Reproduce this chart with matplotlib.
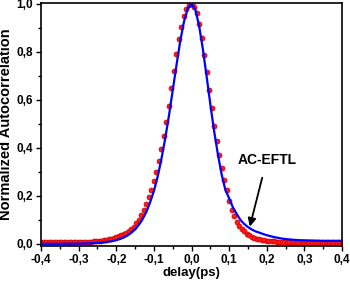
import numpy as np
import matplotlib
matplotlib.use('Agg')
import matplotlib.pyplot as plt
from matplotlib.ticker import MultipleLocator, FuncFormatter

plt.rcParams['font.family'] = ['Liberation Sans', 'DejaVu Sans']
plt.rcParams['font.weight'] = 'bold'

# measured autocorrelation (red dots), step 0.8/120 ps
delay_meas = np.linspace(-0.4, 0.4, 121)
ac_meas = [0.006, 0.006, 0.006, 0.006, 0.006, 0.006, 0.006, 0.006, 0.0065, 0.0066,
           0.0067, 0.0068, 0.0069, 0.0071, 0.0073, 0.0076, 0.0079, 0.0082, 0.0086, 0.0091,
           0.0097, 0.0104, 0.0113, 0.0123, 0.0135, 0.015, 0.0166, 0.0186, 0.021, 0.0238,
           0.027, 0.031, 0.036, 0.041, 0.047, 0.053, 0.061, 0.072, 0.085, 0.100,
           0.121, 0.141, 0.165, 0.194, 0.223, 0.26, 0.30, 0.346, 0.394, 0.45,
           0.51, 0.574, 0.65, 0.72, 0.79, 0.852, 0.905, 0.948, 0.978, 0.995,
           0.998, 0.988, 0.962, 0.916, 0.857, 0.788, 0.716, 0.64, 0.565, 0.493,
           0.43, 0.37, 0.315, 0.267, 0.225, 0.178, 0.14, 0.115, 0.092, 0.075,
           0.063, 0.052, 0.043, 0.036, 0.030, 0.026, 0.022, 0.019, 0.017, 0.015,
           0.0135, 0.012, 0.011, 0.010, 0.0095, 0.009, 0.0087, 0.0084, 0.0082, 0.008,
           0.008, 0.008, 0.008, 0.008, 0.008, 0.008, 0.008, 0.008, 0.008, 0.008,
           0.008, 0.008, 0.008, 0.008, 0.008, 0.008, 0.008, 0.008, 0.008, 0.008,
           0.008]

# AC-EFTL calculation (blue line), step 0.01 ps
delay_calc = np.linspace(-0.4, 0.4, 81)
ac_calc = [0.0, 0.0, 0.0, 0.0, 0.0, 0.0, 0.0005, 0.0006, 0.0006, 0.0008,
           0.001, 0.0013, 0.0017, 0.0022, 0.0029, 0.0039, 0.0051, 0.0067, 0.0089, 0.0117,
           0.0154, 0.0202, 0.0266, 0.035, 0.046, 0.0604, 0.079, 0.103, 0.133, 0.173,
           0.22, 0.28, 0.354, 0.438, 0.534, 0.639, 0.744, 0.845, 0.926, 0.981,
           1.0,
           0.977, 0.911, 0.814, 0.70, 0.582, 0.471, 0.374, 0.29, 0.225, 0.19,
           0.152, 0.125, 0.10, 0.083, 0.07, 0.06, 0.052, 0.047, 0.041, 0.036,
           0.032, 0.028, 0.025, 0.022, 0.020, 0.0185, 0.017, 0.016, 0.015, 0.0145,
           0.014, 0.0135, 0.013, 0.0125, 0.012, 0.012, 0.012, 0.012, 0.012, 0.012]

fig = plt.figure(figsize=(3.5, 2.83), dpi=100)
ax = fig.add_axes([41/350., 37/283., 301/350., 243/283.])

ax.plot(delay_meas, ac_meas, 'o', ms=3.6, color='#ff1a1a', mec='#d00000', mew=0.5, zorder=2)
ax.plot(delay_calc, ac_calc, '-', color='#0000ff', lw=1.6, zorder=3)

ax.annotate('AC-EFTL', xy=(0.155, 0.072), xytext=(0.20, 0.35),
            ha='center', va='center', fontsize=10, fontweight='bold',
            arrowprops=dict(arrowstyle='-|>', color='black', lw=1.3,
                            mutation_scale=12, shrinkA=6, shrinkB=0))

ax.set_xlim(-0.4, 0.4)
ax.set_ylim(-0.009, 1.004)
ax.xaxis.set_major_locator(MultipleLocator(0.1))
ax.xaxis.set_minor_locator(MultipleLocator(0.05))
ax.yaxis.set_major_locator(MultipleLocator(0.2))
ax.yaxis.set_minor_locator(MultipleLocator(0.1))
comma = FuncFormatter(lambda v, p: ('%.1f' % v).replace('.', ',').replace('-0,0', '0,0'))
ax.xaxis.set_major_formatter(comma)
ax.yaxis.set_major_formatter(comma)
ax.tick_params(which='both', direction='out', top=False, right=False, width=1.0, labelsize=8.5, pad=2)
ax.tick_params(which='major', length=3.5)
ax.tick_params(which='minor', length=2)
for s in ax.spines.values():
    s.set_linewidth(1.2)

ax.set_xlabel('delay(ps)', fontsize=9.5, fontweight='bold', labelpad=1)
ax.set_ylabel('Normalized Autocorrelation', fontsize=10.5, fontweight='bold', labelpad=3)

fig.savefig('out.png', dpi=100)
